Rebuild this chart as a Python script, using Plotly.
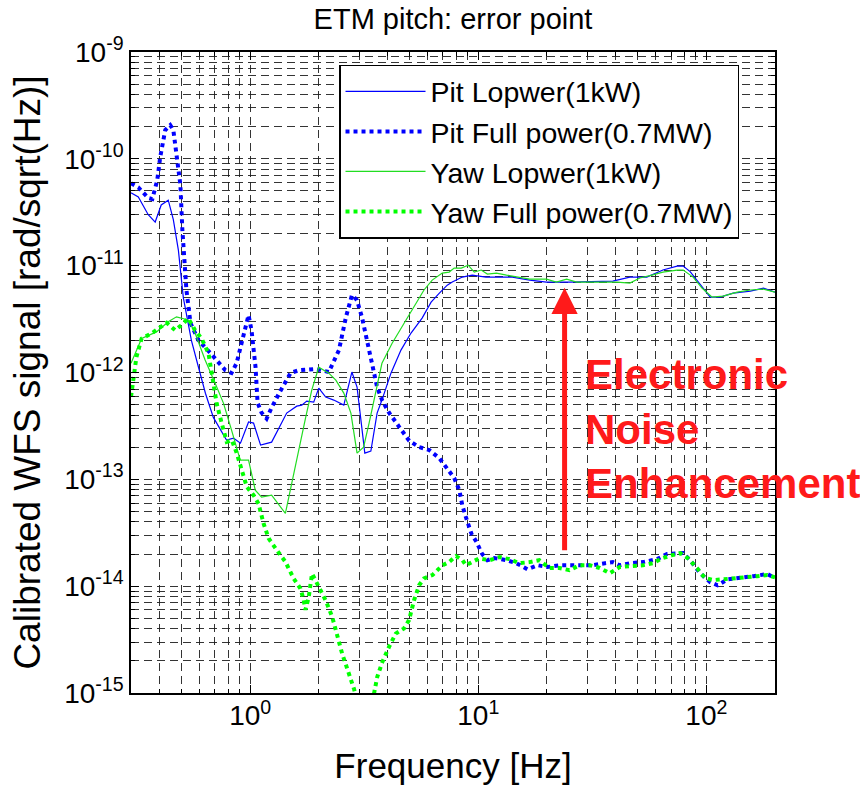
import math
import plotly.graph_objects as go

# ---------------- data ----------------
freq_pit_lo = [0.30, 0.323, 0.357, 0.383, 0.407, 0.437, 0.460, 0.484, 0.509, 0.552, 0.593, 0.636,
               0.689, 0.787, 0.845, 0.906, 0.983, 1.034, 1.110, 1.241, 1.445, 1.599, 1.682, 1.769,
               1.898, 1.997, 2.143, 2.324, 2.572, 2.79, 2.94, 3.18, 3.38, 3.60, 3.78, 4.14, 4.58,
               5.07, 5.67, 6.21, 6.75, 7.31, 7.69, 8.51, 9.41, 10.8, 14.1, 16.8, 19.9, 25.1, 38.9,
               46.2, 54.8, 64.5, 74.4, 79.1, 84.9, 95.7, 104, 115, 131, 156, 178, 200]
pit_lo = [4.8e-11, 4.4e-11, 3.0e-11, 2.56e-11, 3.7e-11, 4.1e-11, 2.7e-11, 1.4e-11, 5.0e-12, 2.0e-12,
          1.12e-12, 6.4e-13, 3.8e-13, 2.33e-13, 2.43e-13, 2.18e-13, 3.44e-13, 3.36e-13, 2.09e-13,
          2.23e-13, 4.17e-13, 4.84e-13, 4.95e-13, 5.4e-13, 5.28e-13, 7.14e-13, 5.89e-13, 5.52e-13,
          4.95e-13, 1.01e-12, 7.3e-13, 1.76e-13, 1.84e-13, 4.17e-13, 5.52e-13, 9.86e-13, 1.62e-12,
          2.34e-12, 3.23e-12, 4.56e-12, 5.53e-12, 6.57e-12, 7.02e-12, 7.82e-12, 8.16e-12, 7.82e-12,
          7.82e-12, 7.33e-12, 7.02e-12, 7.02e-12, 7.18e-12, 7.82e-12, 7.82e-12, 9.1e-12, 9.9e-12,
          9.9e-12, 8.8e-12, 6.3e-12, 5.08e-12, 5.08e-12, 5.53e-12, 5.78e-12, 6.17e-12, 5.66e-12]

freq_pit_full = [0.30, 0.323, 0.357, 0.372, 0.391, 0.403, 0.424, 0.446, 0.460, 0.475, 0.494, 0.504,
                 0.514, 0.525, 0.547, 0.593, 0.669, 0.778, 0.828, 0.871, 0.916, 0.983, 1.013, 1.055,
                 1.077, 1.121, 1.180, 1.241, 1.360, 1.504, 1.632, 1.938, 2.211, 2.449, 2.628, 2.792,
                 2.936, 3.088, 3.250, 3.423, 3.600, 3.786, 4.061, 4.497, 4.976, 5.508, 6.096, 6.746,
                 7.306, 7.84, 8.26, 8.51, 8.86, 9.33, 9.81, 10.1, 10.4, 10.96, 11.78, 13.28, 14.69,
                 16.43, 18.2, 20.1, 22.7, 27.0, 31.7, 35.9, 38.9, 41.7, 46.2, 52.7, 60.8, 67.3, 74.5,
                 79.1, 84.9, 94.0, 104, 112, 124, 141, 161, 185, 200]
pit_full = [5.9e-11, 5.4e-11, 4.3e-11, 4.2e-11, 6.3e-11, 1.04e-10, 1.86e-10, 2.07e-10, 1.86e-10,
            1.13e-10, 5.7e-11, 2.15e-11, 1.01e-11, 5.9e-12, 2.9e-12, 2.0e-12, 1.52e-12, 1.05e-12,
            9.9e-13, 1.22e-12, 1.88e-12, 3.44e-12, 2.49e-12, 1.12e-12, 5.2e-13, 4.2e-13, 3.7e-13,
            4.7e-13, 6.8e-13, 9.9e-13, 1.05e-12, 1.08e-12, 1.01e-12, 1.62e-12, 3.3e-12, 5.3e-12,
            4.77e-12, 3.3e-12, 2.0e-12, 1.22e-12, 7.3e-13, 5.5e-13, 4.2e-13, 3.1e-13, 2.3e-13,
            2.0e-13, 1.88e-13, 1.58e-13, 1.27e-13, 1.03e-13, 7.9e-14, 5.7e-14, 4.3e-14, 3.1e-14,
            2.6e-14, 2.3e-14, 2.0e-14, 1.75e-14, 1.83e-14, 1.75e-14, 1.64e-14, 1.44e-14, 1.57e-14,
            1.51e-14, 1.57e-14, 1.57e-14, 1.57e-14, 1.64e-14, 1.68e-14, 1.57e-14, 1.64e-14,
            1.68e-14, 1.79e-14, 2.0e-14, 2.04e-14, 2.04e-14, 1.75e-14, 1.32e-14, 1.09e-14,
            1.02e-14, 1.16e-14, 1.19e-14, 1.24e-14, 1.30e-14, 1.19e-14]

freq_yaw_lo = [0.30, 0.334, 0.388, 0.437, 0.475, 0.509, 0.535, 0.573, 0.634, 0.701, 0.763, 0.828,
               0.904, 0.983, 1.052, 1.121, 1.241, 1.426, 1.519, 1.632, 1.751, 1.861, 1.997, 2.211,
               2.373, 2.572, 2.763, 2.94, 3.14, 3.32, 3.56, 3.78, 4.19, 4.63, 5.13, 5.78, 6.28,
               6.95, 7.45, 7.84, 8.42, 9.03, 9.60, 10.3, 10.96, 12.0, 13.3, 14.7, 16.8, 19.9, 22.0,
               24.4, 27.0, 33.0, 40.5, 46.2, 51.1, 57.7, 64.5, 74.4, 79.1, 87.5, 95.7, 106, 118.5,
               136.5, 156, 178, 200]
yaw_lo = [1.22e-12, 2.08e-12, 2.40e-12, 2.98e-12, 3.32e-12, 3.21e-12, 3.10e-12, 2.34e-12, 1.31e-12,
          7.96e-13, 5.17e-13, 2.89e-13, 1.51e-13, 1.51e-13, 7.92e-14, 6.81e-14, 7.11e-14, 4.8e-14,
          9.2e-14, 1.88e-13, 3.82e-13, 6.84e-13, 1.12e-12, 9.86e-13, 8.49e-13, 6.41e-13, 4.17e-13,
          1.76e-13, 2.0e-13, 3.36e-13, 6.84e-13, 1.22e-12, 1.88e-12, 2.66e-12, 3.84e-12, 5.92e-12,
          7.33e-12, 8.53e-12, 8.71e-12, 9.5e-12, 9.5e-12, 1.01e-11, 8.71e-12, 9.1e-12, 8.34e-12,
          8.53e-12, 8.16e-12, 7.82e-12, 7.49e-12, 7.49e-12, 7.02e-12, 7.49e-12, 7.02e-12, 7.02e-12,
          7.02e-12, 6.87e-12, 7.66e-12, 8.16e-12, 8.71e-12, 9.1e-12, 9.1e-12, 7.82e-12, 6.17e-12,
          5.08e-12, 5.19e-12, 5.66e-12, 5.92e-12, 6.04e-12, 5.66e-12]

freq_yaw_full = [0.30, 0.307, 0.317, 0.334, 0.369, 0.430, 0.468, 0.500, 0.535, 0.573, 0.612, 0.656,
                 0.690, 0.713, 0.750, 0.789, 0.830, 0.873, 0.918, 0.966, 1.034, 1.088, 1.144, 1.204,
                 1.309, 1.426, 1.550, 1.660, 1.716, 1.746, 1.805, 1.866, 1.931, 2.032, 2.138, 2.285,
                 2.404, 2.529, 2.707, 2.848, 3.15, 3.487, 3.606, 3.794, 4.06, 4.345, 4.72, 4.97, 5.23,
                 5.50, 5.78, 6.29, 6.97, 7.46, 7.98, 8.53, 8.83, 9.44, 10.1, 11.2, 12.4, 13.7, 15.1,
                 16.8, 18.5, 20.5, 22.7, 25.1, 27.8, 30.8, 34.1, 37.7, 41.7, 46.2, 52.7, 58.4, 63.9,
                 70.8, 76.8, 83.1, 91.0, 98.7, 107, 118.5, 131, 151, 167, 185, 200]
yaw_full = [5.93e-13, 9.1e-13, 1.40e-12, 2.08e-12, 2.32e-12, 2.92e-12, 2.49e-12, 2.78e-12, 3.21e-12,
            2.49e-12, 2.08e-12, 1.51e-12, 7.9e-13, 5.1e-13, 3.34e-13, 2.24e-13, 2.33e-13, 1.75e-13,
            1.22e-13, 8.5e-14, 7.1e-14, 5.9e-14, 3.86e-14, 2.80e-14, 2.17e-14, 1.69e-14, 1.18e-14,
            9.5e-15, 7.4e-15, 6.0e-15, 7.9e-15, 1.31e-14, 1.14e-14, 9.2e-15, 7.4e-15, 5.2e-15,
            3.35e-15, 2.34e-15, 1.52e-15, 1.10e-15, 5.0e-16, 9.8e-16, 1.42e-15, 1.95e-15, 2.70e-15,
            3.60e-15, 4.02e-15, 4.81e-15, 7.4e-15, 1.02e-14, 1.18e-14, 1.27e-14, 1.57e-14, 1.69e-14,
            1.91e-14, 1.75e-14, 1.57e-14, 1.69e-14, 1.82e-14, 1.75e-14, 1.87e-14, 1.79e-14, 1.64e-14,
            1.68e-14, 1.75e-14, 1.48e-14, 1.48e-14, 1.41e-14, 1.57e-14, 1.57e-14, 1.48e-14, 1.32e-14,
            1.51e-14, 1.54e-14, 1.57e-14, 1.64e-14, 1.82e-14, 1.95e-14, 2.04e-14, 1.82e-14, 1.48e-14,
            1.19e-14, 1.14e-14, 1.16e-14, 1.19e-14, 1.21e-14, 1.24e-14, 1.27e-14, 1.21e-14]

series_names = ["Pit Lopwer(1kW)", "Pit Full power(0.7MW)", "Yaw Lopwer(1kW)", "Yaw Full power(0.7MW)"]

x_tick_vals = [1, 10, 100]
x_tick_text = ["10<sup>0</sup>", "10<sup>1</sup>", "10<sup>2</sup>"]
y_tick_vals = [1e-15, 1e-14, 1e-13, 1e-12, 1e-11, 1e-10, 1e-9]
y_tick_text = ["10<sup>-15</sup>", "10<sup>-14</sup>", "10<sup>-13</sup>", "10<sup>-12</sup>",
               "10<sup>-11</sup>", "10<sup>-10</sup>", "10<sup>-9</sup>"]

x_range = (0.3, 200)
y_range = (1e-15, 1e-9)

arrow_freq = 23.9
arrow_top = 6.2e-12
arrow_bottom = 2.1e-14
note_freq = 28.7
note_level = 10 ** -12.53

# ---------------- figure ----------------
FONT = "Liberation Sans, Arial, sans-serif"
GRID = "rgba(30,30,30,0.9)"
DASH = "8px,5px"

x_minor = [m * 10 ** d for d in range(-1, 3) for m in range(2, 10)
           if x_range[0] <= m * 10 ** d <= x_range[1]]
y_minor = [m * 10.0 ** d for d in range(-15, -9) for m in range(2, 10)]

fig = go.Figure()
fig.add_trace(go.Scatter(x=freq_pit_lo, y=pit_lo, mode="lines", name=series_names[0],
                         line=dict(color="#0000ff", width=1.2)))
fig.add_trace(go.Scatter(x=freq_pit_full, y=pit_full, mode="lines", name=series_names[1],
                         line=dict(color="#0000ff", width=4, dash="dot")))
fig.add_trace(go.Scatter(x=freq_yaw_lo, y=yaw_lo, mode="lines", name=series_names[2],
                         line=dict(color="#22dd22", width=1.2)))
fig.add_trace(go.Scatter(x=freq_yaw_full, y=yaw_full, mode="lines", name=series_names[3],
                         line=dict(color="#00ff00", width=4, dash="dot")))

axis_common = dict(
    type="log", tickmode="array", ticks="inside", ticklen=8, tickwidth=1, tickcolor="black",
    showline=True, linecolor="black", linewidth=1.5, mirror="allticks",
    showgrid=True, gridcolor=GRID, griddash=DASH, gridwidth=1, zeroline=False,
    tickfont=dict(size=28, color="black", family=FONT),
)

fig.update_xaxes(
    **axis_common,
    range=[math.log10(x_range[0]), math.log10(x_range[1])],
    tickvals=x_tick_vals, ticktext=x_tick_text, ticklabelstandoff=-3,
    minor=dict(tickmode="array", tickvals=x_minor, ticks="inside", ticklen=4, tickcolor="black",
               showgrid=True, gridcolor=GRID, griddash=DASH, gridwidth=1),
    title=dict(text="Frequency [Hz]", font=dict(size=35, color="black", family=FONT), standoff=23),
)
fig.update_yaxes(
    **axis_common,
    range=[math.log10(y_range[0]), math.log10(y_range[1])],
    tickvals=y_tick_vals, ticktext=y_tick_text,
    minor=dict(tickmode="array", tickvals=y_minor, ticks="inside", ticklen=4, tickcolor="black",
               showgrid=True, gridcolor=GRID, griddash=DASH, gridwidth=1),
    title=dict(text="Calibrated WFS signal [rad/sqrt(Hz)]",
               font=dict(size=37, color="black", family=FONT), standoff=12),
)

fig.add_annotation(x=math.log10(arrow_freq), y=math.log10(arrow_top),
                   ax=math.log10(arrow_freq), ay=math.log10(arrow_bottom),
                   xref="x", yref="y", axref="x", ayref="y", text="", showarrow=True,
                   arrowhead=2, arrowsize=1.05, arrowwidth=5, arrowcolor="#ff1a1a")
fig.add_annotation(x=math.log10(note_freq), y=math.log10(note_level), xref="x", yref="y",
                   text="<b>Electronic<br>Noise<br>Enhancement</b>", showarrow=False,
                   xanchor="left", yanchor="middle", align="left",
                   font=dict(size=42, color="#ff1a1a", family=FONT))

fig.update_layout(
    width=860, height=792, autosize=False,
    margin=dict(l=131, r=85, t=52, b=99),
    paper_bgcolor="white", plot_bgcolor="white",
    font=dict(family=FONT, color="black"),
    title=dict(text="ETM pitch: error point", x=0.5, xref="paper", xanchor="center",
               y=1 - 19 / 792, yref="container", yanchor="middle",
               font=dict(size=29, color="black", family=FONT)),
    legend=dict(x=0.323, y=0.98, xanchor="left", yanchor="top", bgcolor="white",
                bordercolor="black", borderwidth=1.5, font=dict(size=28.5, color="black", family=FONT),
                itemwidth=80, tracegroupgap=0),
    showlegend=True,
)

fig.write_html("out.html")
